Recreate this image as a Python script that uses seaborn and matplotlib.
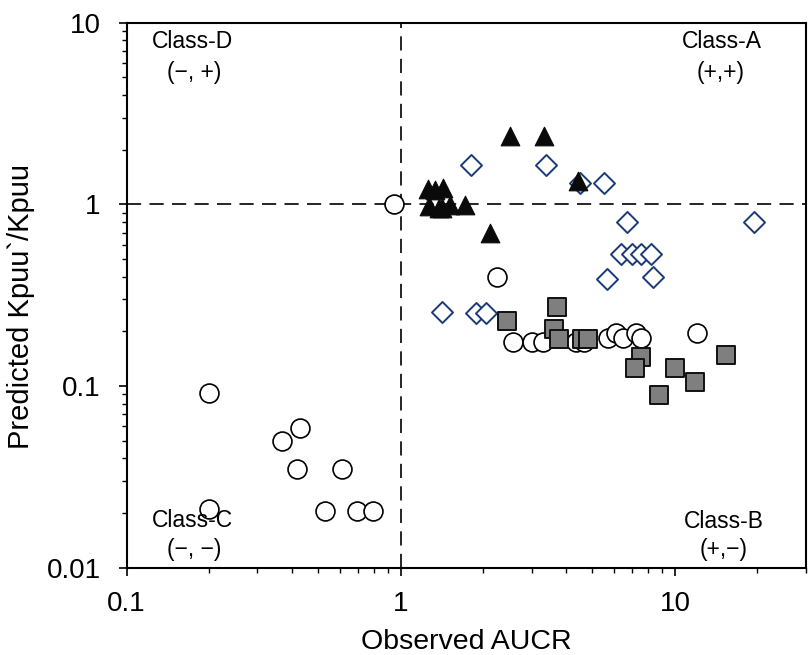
import numpy as np
import pandas as pd
import matplotlib
matplotlib.use("Agg")
import matplotlib.pyplot as plt
import seaborn as sns
from matplotlib.ticker import LogLocator, NullFormatter

# Open circles
circle_x = [0.945, 0.20, 0.20, 0.37, 0.43, 0.42, 0.61, 0.53, 0.69, 0.79,
            2.25, 2.57, 3.0, 3.3, 4.37, 4.68, 5.7, 6.1, 6.45, 7.23, 7.52, 12.05]
circle_y = [1.0, 0.092, 0.021, 0.050, 0.059, 0.035, 0.035, 0.0206, 0.0206, 0.0206,
            0.40, 0.175, 0.175, 0.175, 0.175, 0.175, 0.183, 0.195, 0.183, 0.195, 0.183, 0.196]

# Open diamonds
diamond_x = [1.81, 3.4, 4.5, 5.52, 6.71, 19.4, 6.35, 7.0, 7.5, 8.2, 5.65, 8.3, 1.41, 1.88, 2.04]
diamond_y = [1.65, 1.65, 1.31, 1.31, 0.80, 0.80, 0.53, 0.53, 0.53, 0.53, 0.39, 0.40, 0.256, 0.253, 0.253]

# Grey squares
square_x = [2.45, 3.72, 3.62, 3.79, 4.6, 4.8, 7.5, 7.13, 9.98, 11.8, 8.75, 15.4]
square_y = [0.227, 0.272, 0.205, 0.182, 0.182, 0.182, 0.145, 0.125, 0.125, 0.105, 0.089, 0.148]

# Filled triangles
triangle_x = [2.5, 3.32, 4.43, 2.11, 1.26, 1.33, 1.43, 1.27, 1.38, 1.41, 1.51, 1.71]
triangle_y = [2.38, 2.38, 1.34, 0.70, 1.22, 1.20, 1.23, 0.975, 0.95, 0.96, 0.99, 0.99]

y_ticks = [0.01, 0.1, 1, 10]
y_tick_labels = ["0.01", "0.1", "1", "10"]
x_ticks = [0.1, 1, 10]
x_tick_labels = ["0.1", "1", "10"]

sns.set_theme(style="ticks")
plt.rcParams["font.family"] = ["Liberation Sans", "DejaVu Sans"]
plt.rcParams["text.color"] = "black"
plt.rcParams["axes.labelcolor"] = "black"

fig = plt.figure(figsize=(8.08, 6.55), dpi=100)
ax = fig.add_axes([0.1566, 0.1333, 0.8406, 0.832])

df_c = pd.DataFrame({"x": circle_x, "y": circle_y})
df_d = pd.DataFrame({"x": diamond_x, "y": diamond_y})
df_s = pd.DataFrame({"x": square_x, "y": square_y})
df_t = pd.DataFrame({"x": triangle_x, "y": triangle_y})

sns.scatterplot(data=df_c, x="x", y="y", ax=ax, marker="o", s=185,
                facecolor="white", edgecolor="black", linewidth=1.2, zorder=3)
sns.scatterplot(data=df_d, x="x", y="y", ax=ax, marker="D", s=115,
                facecolor="white", edgecolor="#1b3a78", linewidth=1.4, zorder=3)
sns.scatterplot(data=df_s, x="x", y="y", ax=ax, marker="s", s=155,
                facecolor="#7f7f7f", edgecolor="#111111", linewidth=1.4, zorder=4)
sns.scatterplot(data=df_t, x="x", y="y", ax=ax, marker="^", s=180,
                facecolor="#0a0a0a", edgecolor="#0a0a0a", linewidth=0.8, zorder=5)

ax.set_xscale("log")
ax.set_yscale("log")
ax.set_xlim(0.1, 30)
ax.set_ylim(0.01, 10)

# Quadrant dividers
ax.axvline(1, color="black", lw=1.2, linestyle=(0, (8.5, 5)), zorder=2)
ax.axhline(1, color="black", lw=1.2, linestyle=(0, (8.5, 5)), zorder=2)

ax.xaxis.set_major_locator(plt.FixedLocator(x_ticks))
ax.yaxis.set_major_locator(plt.FixedLocator(y_ticks))
ax.xaxis.set_major_formatter(plt.FixedFormatter(x_tick_labels))
ax.yaxis.set_major_formatter(plt.FixedFormatter(y_tick_labels))
ax.xaxis.set_minor_locator(LogLocator(base=10, subs=np.arange(2, 10)))
ax.yaxis.set_minor_locator(LogLocator(base=10, subs=np.arange(2, 10)))
ax.xaxis.set_minor_formatter(NullFormatter())
ax.yaxis.set_minor_formatter(NullFormatter())

ax.tick_params(which="major", direction="out", length=5.5, width=1.2,
               labelsize=20, colors="black", labelcolor="black")
ax.tick_params(which="minor", direction="out", length=3.5, width=1.0, colors="black")
ax.tick_params(axis="x", which="major", pad=11)
ax.tick_params(axis="y", which="major", pad=13)

for sp in ax.spines.values():
    sp.set_visible(True)
    sp.set_color("black")
    sp.set_linewidth(1.5)

ax.set_xlabel("Observed AUCR", fontsize=20.5, color="black")
ax.set_ylabel("Predicted Kpuu`/Kpuu", fontsize=21, color="black")
ax.xaxis.set_label_coords(0.50, -0.137)
ax.xaxis.label.set_va("center")
ax.yaxis.set_label_coords(-0.155, 0.48)
ax.yaxis.label.set_va("center")

# Quadrant labels
quad_fs = 16.5
quad_kw = dict(transform=ax.transAxes, ha="center", va="baseline",
               fontsize=quad_fs, color="black")
ax.text(0.097, 0.953, "Class-D", **quad_kw)
ax.text(0.099, 0.897, "(\u2212, +)", **quad_kw)
ax.text(0.876, 0.953, "Class-A", **quad_kw)
ax.text(0.875, 0.897, "(+,+)", **quad_kw)
ax.text(0.097, 0.074, "Class-C", **quad_kw)
ax.text(0.099, 0.022, "(\u2212, \u2212)", **quad_kw)
ax.text(0.879, 0.072, "Class-B", **quad_kw)
ax.text(0.879, 0.021, "(+,\u2212)", **quad_kw)

fig.savefig("out.png", dpi=100, facecolor="white")
